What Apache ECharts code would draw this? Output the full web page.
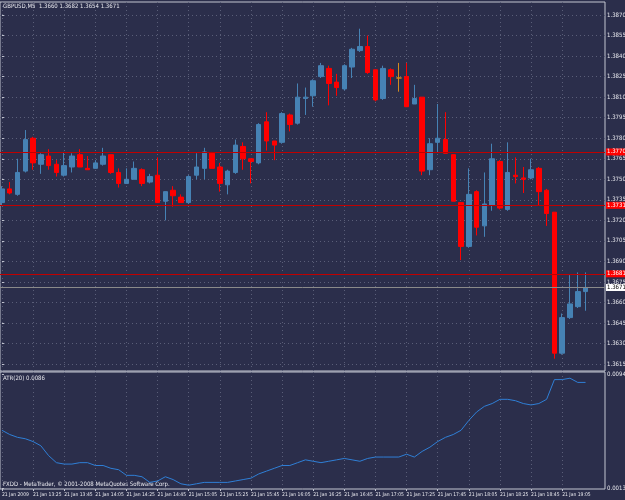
<!DOCTYPE html>
<html>
<head>
<meta charset="utf-8">
<script src="https://cdn.jsdelivr.net/npm/echarts@6/dist/echarts.min.js"></script>
<style>
html, body { margin: 0; padding: 0; background: #2b2e4b; }
#chart { width: 625px; height: 500px; }
</style>
</head>
<body>
<div id="chart"></div>
<script>
// GBPUSD M5, 21 Jan 2009 13:05 .. 19:20
const opens = [1.3733, 1.3743, 1.3739, 1.3756, 1.3780, 1.3761, 1.3767, 1.3761, 1.3753, 1.3759,
  1.3768, 1.3758, 1.3758, 1.3761, 1.3768, 1.3755, 1.3747, 1.3750, 1.3757, 1.3748,
  1.3753, 1.3734, 1.3742, 1.3737, 1.3733, 1.3753, 1.3758, 1.3769, 1.3759, 1.3746,
  1.3755, 1.3774, 1.3765, 1.3762, 1.3792, 1.3778, 1.3777, 1.3797, 1.3791, 1.3809,
  1.3811, 1.3825, 1.3831, 1.3821, 1.3816, 1.3832, 1.3844, 1.3847, 1.3830, 1.3809,
  1.3830, 1.3824, 1.3825, 1.3805, 1.3810, 1.3757, 1.3777, 1.3779, 1.3768, 1.3733,
  1.3701, 1.3741, 1.3716, 1.3731, 1.3763, 1.3728, 1.3753, 1.3751, 1.3751, 1.3758,
  1.3742, 1.3726, 1.3623, 1.3649, 1.3657, 1.3668]
const highs = [1.3745, 1.3748, 1.3765, 1.3786, 1.3781, 1.3769, 1.3772, 1.3764, 1.3770, 1.3769,
  1.3772, 1.3767, 1.3764, 1.3773, 1.3768, 1.3758, 1.3758, 1.3763, 1.3758, 1.3754,
  1.3766, 1.3741, 1.3745, 1.3739, 1.3753, 1.3769, 1.3773, 1.3770, 1.3762, 1.3757,
  1.3779, 1.3777, 1.3765, 1.3791, 1.3799, 1.3778, 1.3799, 1.3798, 1.3820, 1.3817,
  1.3823, 1.3835, 1.3833, 1.3827, 1.3834, 1.3846, 1.3860, 1.3855, 1.3830, 1.3833,
  1.3831, 1.3835, 1.3835, 1.3819, 1.3810, 1.3780, 1.3805, 1.3799, 1.3768, 1.3733,
  1.3758, 1.3742, 1.3755, 1.3776, 1.3764, 1.3777, 1.3766, 1.3759, 1.3765, 1.3759,
  1.3743, 1.3726, 1.3652, 1.3680, 1.3682, 1.3682]
const lows = [1.3731, 1.3739, 1.3738, 1.3755, 1.3757, 1.3754, 1.3757, 1.3752, 1.3752, 1.3755,
  1.3759, 1.3757, 1.3758, 1.3760, 1.3754, 1.3744, 1.3747, 1.3750, 1.3745, 1.3747,
  1.3733, 1.3720, 1.3730, 1.3733, 1.3732, 1.3750, 1.3750, 1.3758, 1.3741, 1.3739,
  1.3754, 1.3757, 1.3747, 1.3761, 1.3771, 1.3764, 1.3776, 1.3785, 1.3790, 1.3797,
  1.3803, 1.3824, 1.3804, 1.3811, 1.3815, 1.3824, 1.3843, 1.3827, 1.3807, 1.3808,
  1.3819, 1.3814, 1.3803, 1.3805, 1.3753, 1.3753, 1.3770, 1.3769, 1.3734, 1.3691,
  1.3700, 1.3709, 1.3708, 1.3727, 1.3728, 1.3727, 1.3747, 1.3740, 1.3750, 1.3731,
  1.3716, 1.3619, 1.3622, 1.3648, 1.3656, 1.3654]
const closes = [1.3743, 1.3740, 1.3755, 1.3779, 1.3762, 1.3768, 1.3760, 1.3755, 1.3760, 1.3767,
  1.3759, 1.3757, 1.3762, 1.3767, 1.3755, 1.3747, 1.3750, 1.3758, 1.3747, 1.3752,
  1.3733, 1.3741, 1.3738, 1.3733, 1.3752, 1.3759, 1.3770, 1.3758, 1.3747, 1.3756,
  1.3775, 1.3765, 1.3763, 1.3790, 1.3778, 1.3775, 1.3798, 1.3790, 1.3810, 1.3810,
  1.3822, 1.3833, 1.3820, 1.3817, 1.3833, 1.3845, 1.3847, 1.3828, 1.3808, 1.3831,
  1.3825, 1.3824, 1.3803, 1.3809, 1.3756, 1.3776, 1.3780, 1.3769, 1.3734, 1.3701,
  1.3739, 1.3715, 1.3732, 1.3765, 1.3729, 1.3755, 1.3752, 1.3750, 1.3757, 1.3741,
  1.3725, 1.3623, 1.3649, 1.3659, 1.3668, 1.3671]

// ATR(20) values
const atr = [0.0054, 0.0051, 0.0049, 0.0048, 0.0046, 0.0043, 0.0036, 0.0031, 0.0030, 0.0030,
  0.0031, 0.0031, 0.0029, 0.0029, 0.0027, 0.0026, 0.0022, 0.0022, 0.0021, 0.0017,
  0.0018, 0.0021, 0.0019, 0.0016, 0.0015, 0.0016, 0.0017, 0.0017, 0.0017, 0.0017,
  0.0018, 0.0019, 0.0020, 0.0023, 0.0025, 0.0027, 0.0029, 0.0029, 0.0031, 0.0033,
  0.0032, 0.0031, 0.0032, 0.0033, 0.0034, 0.0033, 0.0032, 0.0034, 0.0035, 0.0035,
  0.0035, 0.0035, 0.0037, 0.0035, 0.0039, 0.0042, 0.0046, 0.0049, 0.0051, 0.0054,
  0.0061, 0.0067, 0.0071, 0.0073, 0.0076, 0.0076, 0.0075, 0.0073, 0.0072, 0.0073,
  0.0076, 0.0090, 0.0090, 0.0091, 0.0088, 0.0088]

const priceTicks = [1.3615, 1.3630, 1.3645, 1.3660, 1.3675, 1.3690, 1.3705, 1.3720, 1.3735,
  1.3750, 1.3765, 1.3780, 1.3795, 1.3810, 1.3825, 1.3840, 1.3855, 1.3870]
const atrTicks = [0.0013, 0.0094]
const timeLabels = ['21 Jan 2009', '21 Jan 13:25', '21 Jan 13:45', '21 Jan 14:05', '21 Jan 14:25',
  '21 Jan 14:45', '21 Jan 15:05', '21 Jan 15:25', '21 Jan 15:45', '21 Jan 16:05', '21 Jan 16:25',
  '21 Jan 16:45', '21 Jan 17:05', '21 Jan 17:25', '21 Jan 17:45', '21 Jan 18:05', '21 Jan 18:25',
  '21 Jan 18:45', '21 Jan 19:05']
const levels = [1.3770, 1.3731, 1.3681]
const bid = 1.3671

const FONT = '"Liberation Sans Narrow", "DejaVu Sans Condensed", "Liberation Sans", sans-serif'
const GRIDLINE = { show: true, lineStyle: { color: '#5a5e78', type: [1, 3], width: 1 } }

let candles = opens.map((o, i) => [i, o, closes[i], lows[i], highs[i]])
let atrData = atr.map((v, i) => [i, v])
// a time label sits on every 4th bar
let timeTicks = timeLabels.map((t, k) => k * 4)

let chart = echarts.init(document.getElementById('chart'))

let levelLines = levels.map(p => ({
  yAxis: p,
  lineStyle: { color: '#c00000', width: 1, type: 'solid' },
  label: { backgroundColor: '#ff0000', color: '#ffffff' }
}))
levelLines.push({
  yAxis: bid,
  lineStyle: { color: '#8a8a8a', width: 1, type: 'solid' },
  label: { backgroundColor: '#ffffff', color: '#000000' }
})

chart.setOption({
  backgroundColor: '#2b2e4b',
  animation: false,
  textStyle: { fontFamily: FONT },
  grid: [
    { left: 0, right: 20, top: 2, height: 369, show: true, borderColor: '#c4c6d2', borderWidth: 1, backgroundColor: 'transparent', containLabel: false, outerBoundsMode: 'none' },
    { left: 0, right: 20, top: 372, height: 117, show: true, borderColor: '#c4c6d2', borderWidth: 1, backgroundColor: 'transparent', containLabel: false, outerBoundsMode: 'none' }
  ],
  xAxis: [
    {
      type: 'value', gridIndex: 0, min: -0.25, max: 77.5,
      axisLine: { show: false, onZero: false },
      axisTick: { show: false, customValues: timeTicks },
      axisLabel: { show: false },
      splitLine: GRIDLINE
    },
    {
      type: 'value', gridIndex: 1, min: -0.25, max: 77.5, position: 'bottom',
      axisLine: { show: false, onZero: false },
      axisTick: { show: true, length: 2, customValues: timeTicks, lineStyle: { color: '#c4c6d2' } },
      axisLabel: {
        show: true, customValues: timeTicks, fontSize: 5, color: '#e8e8ee', align: 'left', margin: 3,
        hideOverlap: false,
        formatter: v => timeLabels[Math.round(v / 4)] || ''
      },
      splitLine: GRIDLINE
    }
  ],
  yAxis: [
    {
      type: 'value', gridIndex: 0, position: 'right',
      min: 1.36100, max: 1.38795,
      axisLine: { show: false },
      axisTick: { show: true, length: 2, customValues: priceTicks, lineStyle: { color: '#c4c6d2' } },
      axisLabel: { show: true, customValues: priceTicks, fontSize: 6, color: '#e8e8ee', margin: 2, formatter: v => v.toFixed(4) },
      splitLine: GRIDLINE
    },
    {
      type: 'value', gridIndex: 1, position: 'right',
      min: 0.00123, max: 0.00954,
      axisLine: { show: false },
      axisTick: { show: true, length: 2, customValues: atrTicks, lineStyle: { color: '#c4c6d2' } },
      axisLabel: { show: true, customValues: atrTicks, fontSize: 6, color: '#e8e8ee', margin: 2, formatter: v => v.toFixed(4) },
      splitLine: { show: false }
    }
  ],
  series: [
    {
      type: 'candlestick',
      xAxisIndex: 0, yAxisIndex: 0,
      data: candles,
      encode: { x: 0, y: [1, 2, 3, 4] },
      barWidth: 5,
      itemStyle: {
        color: '#4682b4', color0: '#ff0000',
        borderColor: '#4682b4', borderColor0: '#ff0000',
        borderColorDoji: '#d28a1e', borderWidth: 1
      },
      markLine: {
        silent: true, symbol: 'none', animation: false, precision: 4,
        label: {
          position: 'end', distance: 1, fontSize: 6, padding: [1, 1, 0, 1],
          formatter: p => p.value.toFixed(4)
        },
        data: levelLines
      }
    },
    {
      type: 'line',
      xAxisIndex: 1, yAxisIndex: 1,
      data: atrData,
      showSymbol: false,
      lineStyle: { color: '#2f7fd6', width: 1 }
    }
  ],
  graphic: [
    { type: 'text', left: 3, top: 3, style: { text: 'GBPUSD,M5  1.3660 1.3682 1.3654 1.3671', fill: '#e8e8ee', font: '6px ' + FONT } },
    { type: 'text', left: 3, top: 375, style: { text: 'ATR(20) 0.0086', fill: '#e8e8ee', font: '6px ' + FONT } },
    { type: 'text', left: 3, top: 481, style: { text: 'FXDD - MetaTrader, © 2001-2008 MetaQuotes Software Corp.', fill: '#e8e8ee', font: '6px ' + FONT } }
  ]
})
</script>
</body>
</html>
